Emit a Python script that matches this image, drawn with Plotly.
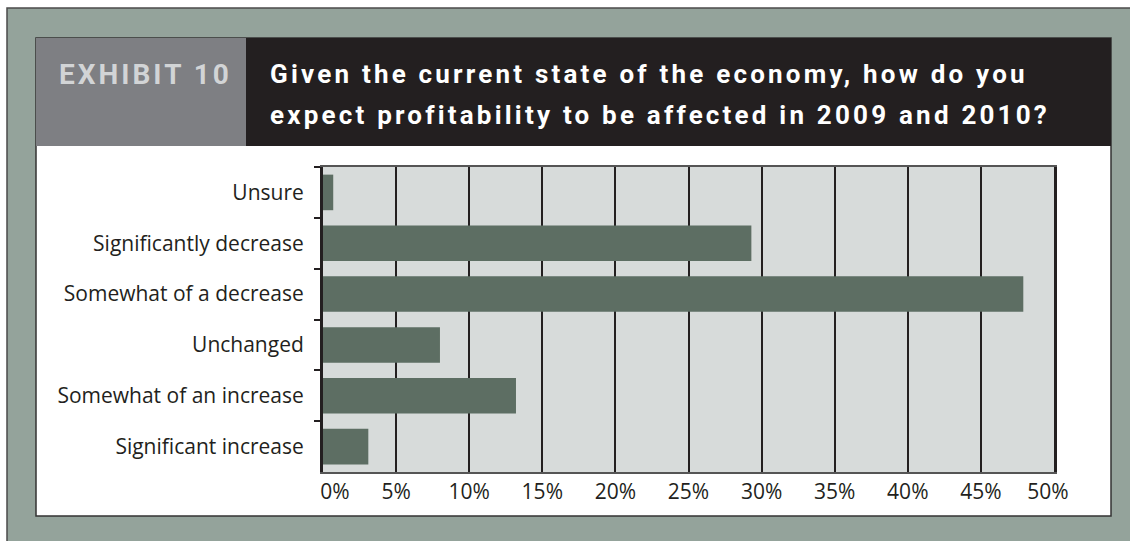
import plotly.graph_objects as go

# Survey responses, listed top to bottom
categories = [
    "Unsure",
    "Significantly decrease",
    "Somewhat of a decrease",
    "Unchanged",
    "Somewhat of an increase",
    "Significant increase",
]
shares = [0.7, 29.3, 47.9, 8.0, 13.2, 3.1]

x_ticks = [0, 5, 10, 15, 20, 25, 30, 35, 40, 45, 50]
x_tick_labels = ["0%", "5%", "10%", "15%", "20%", "25%", "30%", "35%", "40%", "45%", "50%"]

exhibit_label = "EXHIBIT 10"
title_lines = [
    "Given the current state of the economy, how do you",
    "expect profitability to be affected in 2009 and 2010?",
]

W, H = 1130, 541
PL, PR, PT, PB = 323, 1054, 167, 472  # plot area in pixels


def px(x):
    return (x - PL) / (PR - PL)


def py(y):
    return (PB - y) / (PB - PT)


FRAME = "#94a39b"
PLOT_BG = "#d7dbda"
BAR = "#5d6e63"
INK = "#231f20"
HEAD_GRAY = "#7e7f83"

fig = go.Figure(
    go.Bar(
        x=shares,
        y=categories,
        orientation="h",
        marker=dict(color=BAR, line=dict(width=0)),
        width=0.7,
        hoverinfo="skip",
    )
)


def rect(x0, y0, x1, y1, fill, line_color=None, line_width=0):
    return dict(
        type="rect", xref="paper", yref="paper",
        x0=px(x0), x1=px(x1), y0=py(y0), y1=py(y1),
        fillcolor=fill, layer="below",
        line=dict(color=line_color or fill, width=line_width),
    )


shapes = [
    rect(7, 8, 1140, 550, FRAME, "#4b4b4b", 1.5),
    rect(36, 38, 1111, 516, "white", "#333333", 1.5),
    rect(36, 38, 246, 146, HEAD_GRAY),
    rect(246, 38, 1111, 146, INK),
    rect(PL, PT, PR, PB, PLOT_BG),
]

HEAD_FONT = "Roboto, Liberation Sans, sans-serif"

annotations = [
    dict(
        text=f'<span style="letter-spacing:3px">{exhibit_label}</span>',
        xref="paper", yref="paper", x=px(57), y=py(74),
        xanchor="left", yanchor="middle", showarrow=False,
        font=dict(family=HEAD_FONT, size=28, color="#d2d4d6", weight="bold"),
    )
]
for i, line in enumerate(title_lines):
    annotations.append(
        dict(
            text=f'<span style="letter-spacing:3.2px">{line}</span>',
            xref="paper", yref="paper", x=px(268), y=py(74 + 41 * i),
            xanchor="left", yanchor="middle", showarrow=False,
            font=dict(family=HEAD_FONT, size=26, color="white", weight="bold"),
        )
    )

LABEL_FONT = dict(family="Open Sans, Noto Sans, sans-serif", size=21, color=INK)

# The first and last percentage labels sit slightly inward from their gridlines
FIG_SPACE = "\u2007"
x_tick_text = list(x_tick_labels)
x_tick_text[0] = FIG_SPACE * 2 + x_tick_text[0]
x_tick_text[-1] = x_tick_text[-1] + FIG_SPACE

fig.update_layout(
    width=W, height=H,
    margin=dict(l=PL, r=W - PR, t=PT, b=H - PB, pad=0),
    paper_bgcolor="white",
    plot_bgcolor="rgba(0,0,0,0)",
    showlegend=False,
    shapes=shapes,
    annotations=annotations,
    bargap=0.3,
    xaxis=dict(
        range=[0, 50],
        tickvals=x_ticks,
        ticktext=x_tick_text,
        showgrid=True, gridcolor=INK, gridwidth=2,
        zeroline=False,
        showline=True, mirror=True, linecolor="#555555", linewidth=2,
        ticks="", tickfont=LABEL_FONT,
        ticklabelstandoff=0,
        fixedrange=True,
    ),
    yaxis=dict(
        type="category",
        categoryorder="array", categoryarray=categories,
        autorange="reversed",
        showgrid=False, zeroline=False,
        showline=True, mirror=True, linecolor=INK, linewidth=3,
        ticks="outside", tickson="boundaries", ticklen=6,
        tickcolor=INK, tickwidth=1.5,
        tickfont=LABEL_FONT,
        ticklabelstandoff=12,
        fixedrange=True,
    ),
)

fig.write_html("out.html", config=dict(displayModeBar=False))
